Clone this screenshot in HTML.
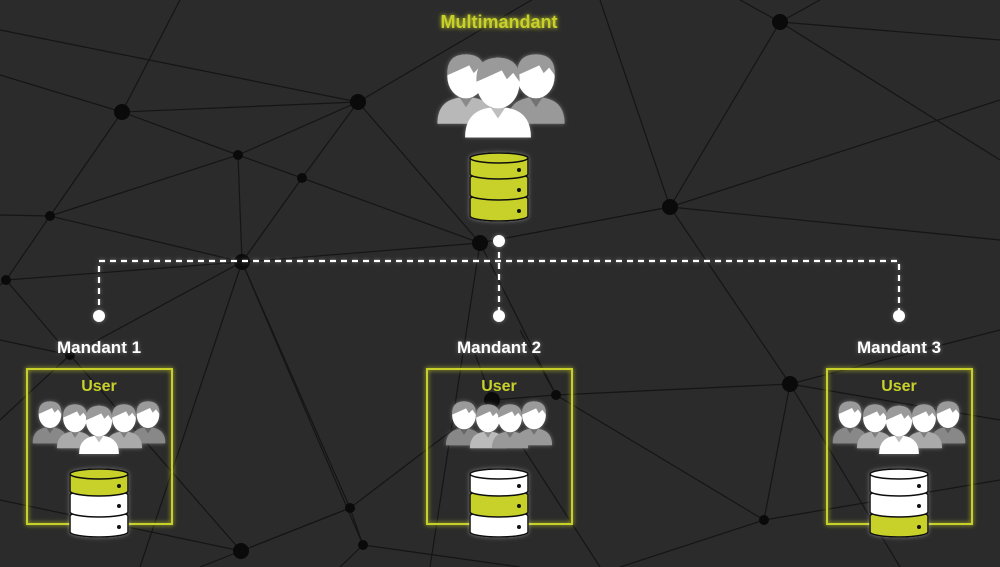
<!DOCTYPE html>
<html><head><meta charset="utf-8"><style>
html,body{margin:0;padding:0;background:#2b2b2b}
svg{display:block}
text{font-family:"Liberation Sans",sans-serif;font-weight:bold}
</style></head><body>
<svg width="1000" height="567" viewBox="0 0 1000 567" xmlns="http://www.w3.org/2000/svg">
<defs>
<filter id="g" x="-30%" y="-30%" width="160%" height="160%"><feGaussianBlur in="SourceAlpha" stdDeviation="3"/><feFlood flood-color="#fff" flood-opacity="0.35"/><feComposite operator="in" in2="SourceAlpha"/><feGaussianBlur stdDeviation="2"/><feMerge><feMergeNode/><feMergeNode in="SourceGraphic"/></feMerge></filter>
<filter id="gy"><feGaussianBlur stdDeviation="2.5" result="b"/><feMerge><feMergeNode in="b"/><feMergeNode in="SourceGraphic"/></feMerge></filter>
<symbol id="p" viewBox="-30 -22 60 66">
<path d="M-26,43 Q-26,19 0,19 Q26,19 26,43 Z" fill="currentColor"/>
<path d="M-6,19 L0,28 L6,19 Z" fill="#000" opacity=".25"/>
<ellipse cx="0" cy="0" rx="17" ry="20" fill="#fff"/>
<path d="M-17,-1 Q-18,-20 0,-20 Q18,-20 17,-1 L12,-8 L7,-3 L3,-10 L-8,-5 Z" fill="#9a9a9a"/>
</symbol>
</defs>
<g stroke="#151515" stroke-width="1.2" fill="none">
<path d="M0,75 L122,112 L358,102 L540,-5"/>
<path d="M122,112 L238,155 L302,178 L480,243 L670,207 L1000,240"/>
<path d="M0,215 L50,216 L122,112 L180,0"/>
<path d="M50,216 L238,155 L358,102 L302,178 L242,262 L50,216 L6,280"/>
<path d="M358,102 L480,243 L670,207 L780,22 L1000,160"/>
<path d="M358,102 L0,30"/>
<path d="M780,22 L740,0 M780,22 L1000,40 M780,22 L820,0"/>
<path d="M670,207 L600,0 M670,207 L790,384 L1000,330"/>
<path d="M480,243 L242,262 L238,155"/>
<path d="M242,262 L6,280 L70,355 L242,262 L350,508 L241,551 L70,355"/>
<path d="M242,262 L140,567 M242,262 L363,545"/>
<path d="M480,243 L430,567 M480,243 L556,395 L492,400 L350,508"/>
<path d="M790,384 L556,395 L764,520 L790,384 L900,567 M764,520 L1000,480 M764,520 L620,567"/>
<path d="M492,400 L600,567 M492,400 L470,340 M556,395 L520,330"/>
<path d="M6,280 L0,285 M70,355 L0,420 M0,500 L241,551 L350,508 L363,545 L520,567"/>
<path d="M790,384 L1000,420 M670,207 L1000,100 M0,340 L70,355"/>
<path d="M241,551 L200,567 M363,545 L340,567"/>
</g>
<g fill="#0a0a0a">
<circle cx="122" cy="112" r="8"/><circle cx="358" cy="102" r="8"/><circle cx="238" cy="155" r="5"/><circle cx="302" cy="178" r="5"/><circle cx="50" cy="216" r="5"/><circle cx="242" cy="262" r="8"/><circle cx="480" cy="243" r="8"/><circle cx="670" cy="207" r="8"/><circle cx="780" cy="22" r="8"/><circle cx="6" cy="280" r="5"/><circle cx="70" cy="355" r="5"/><circle cx="790" cy="384" r="8"/><circle cx="556" cy="395" r="5"/><circle cx="492" cy="400" r="8"/><circle cx="350" cy="508" r="5"/><circle cx="363" cy="545" r="5"/><circle cx="241" cy="551" r="8"/><circle cx="764" cy="520" r="5"/>
</g>
<g stroke="#fff" stroke-width="2.2" stroke-dasharray="6,5" fill="none" filter="url(#g)">
<path d="M99,316 V261 H899 V316"/><path d="M499,241 V316"/>
</g>
<g fill="#fff" filter="url(#g)"><circle cx="499" cy="241" r="6"/><circle cx="99" cy="316" r="6"/><circle cx="499" cy="316" r="6"/><circle cx="899" cy="316" r="6"/></g>
<text x="499" y="28" text-anchor="middle" font-size="18" fill="#c8d12a" filter="url(#gy)">Multimandant</text>
<g filter="url(#g)">
<use href="#p" x="433" y="52" width="66" height="73" color="#b8b8b8"/>
<use href="#p" x="503" y="52" width="66" height="73" color="#999"/>
<use href="#p" x="460" y="55" width="76" height="84" color="#fff"/>
</g>
<g stroke="#111" stroke-width="1.5" filter="url(#g)">
<path d="M470,199 A29,5 0 0 1 528,199 V216 A29,5 0 0 1 470,216 Z" fill="#c8d12a"/>
<path d="M470,178 A29,5 0 0 1 528,178 V195 A29,5 0 0 1 470,195 Z" fill="#c8d12a"/>
<path d="M470,158 A29,5 0 0 1 528,158 V174 A29,5 0 0 1 470,174 Z" fill="#c8d12a"/><ellipse cx="499" cy="158" rx="29" ry="5" fill="#c8d12a"/>
</g>
<g fill="#111"><circle cx="519" cy="170" r="2"/><circle cx="519" cy="190" r="2"/><circle cx="519" cy="211" r="2"/></g>

<g font-size="17" fill="#fff" text-anchor="middle" filter="url(#g)">
<text x="99" y="353">Mandant 1</text><text x="499" y="353">Mandant 2</text><text x="899" y="353">Mandant 3</text></g>
<g fill="none" stroke="#c8d12a" stroke-width="2" filter="url(#gy)">
<rect x="27" y="369" width="145" height="155"/><rect x="427" y="369" width="145" height="155"/><rect x="827" y="369" width="145" height="155"/></g>
<g font-size="16" fill="#c8d12a" text-anchor="middle">
<text x="99" y="391">User</text><text x="499" y="391">User</text><text x="899" y="391">User</text></g>

<g filter="url(#g)">
<use href="#p" x="30" y="400" width="40" height="44" color="#888"/>
<use href="#p" x="128" y="400" width="40" height="44" color="#888"/>
<use href="#p" x="54" y="403" width="42" height="46" color="#aaa"/>
<use href="#p" x="103" y="403" width="42" height="46" color="#aaa"/>
<use href="#p" x="76" y="404" width="46" height="51" color="#fff"/>
</g>
<g filter="url(#g)">
<use href="#p" x="830" y="400" width="40" height="44" color="#888"/>
<use href="#p" x="928" y="400" width="40" height="44" color="#888"/>
<use href="#p" x="854" y="403" width="42" height="46" color="#aaa"/>
<use href="#p" x="903" y="403" width="42" height="46" color="#aaa"/>
<use href="#p" x="876" y="404" width="46" height="51" color="#fff"/>
</g>
<g filter="url(#g)">
<use href="#p" x="443" y="400" width="42" height="46" color="#888"/>
<use href="#p" x="513" y="400" width="42" height="46" color="#999"/>
<use href="#p" x="467" y="403" width="42" height="46" color="#bbb"/>
<use href="#p" x="489" y="403" width="42" height="46" color="#999"/>
</g>

<g stroke="#111" stroke-width="1.5" filter="url(#g)">
<path d="M70,516 A29,5 0 0 1 128,516 V532 A29,5 0 0 1 70,532 Z" fill="#fff"/>
<path d="M70,495 A29,5 0 0 1 128,495 V512 A29,5 0 0 1 70,512 Z" fill="#fff"/>
<path d="M70,474 A29,5 0 0 1 128,474 V491 A29,5 0 0 1 70,491 Z" fill="#c8d12a"/><ellipse cx="99" cy="474" rx="29" ry="5" fill="#c8d12a"/>
<path d="M470,516 A29,5 0 0 1 528,516 V532 A29,5 0 0 1 470,532 Z" fill="#fff"/>
<path d="M470,495 A29,5 0 0 1 528,495 V512 A29,5 0 0 1 470,512 Z" fill="#c8d12a"/>
<path d="M470,474 A29,5 0 0 1 528,474 V491 A29,5 0 0 1 470,491 Z" fill="#fff"/><ellipse cx="499" cy="474" rx="29" ry="5" fill="#fff"/>
<path d="M870,516 A29,5 0 0 1 928,516 V532 A29,5 0 0 1 870,532 Z" fill="#c8d12a"/>
<path d="M870,495 A29,5 0 0 1 928,495 V512 A29,5 0 0 1 870,512 Z" fill="#fff"/>
<path d="M870,474 A29,5 0 0 1 928,474 V491 A29,5 0 0 1 870,491 Z" fill="#fff"/><ellipse cx="899" cy="474" rx="29" ry="5" fill="#fff"/>
</g>
<g fill="#111">
<circle cx="119" cy="486" r="2"/><circle cx="119" cy="506" r="2"/><circle cx="119" cy="527" r="2"/>
<circle cx="519" cy="486" r="2"/><circle cx="519" cy="506" r="2"/><circle cx="519" cy="527" r="2"/>
<circle cx="919" cy="486" r="2"/><circle cx="919" cy="506" r="2"/><circle cx="919" cy="527" r="2"/>
</g>
</svg>
</body></html>
